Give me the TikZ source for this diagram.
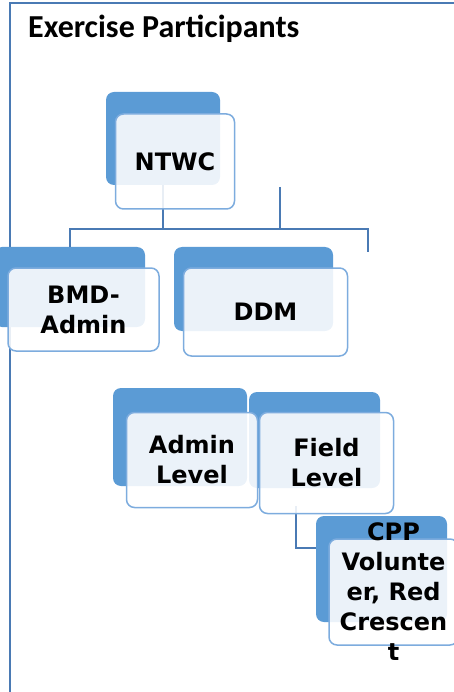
\documentclass[tikz,border=0pt]{standalone}
\usepackage{fontspec}
\setmainfont{DejaVu Sans}
\newfontfamily\titlefont{Carlito}
\usetikzlibrary{positioning}
\definecolor{frameblue}{RGB}{74,122,180}
\definecolor{backblue}{RGB}{91,155,213}
\definecolor{edgeblue}{RGB}{125,172,222}

\begin{document}
\begin{tikzpicture}
    [
        x=1pt, y=-1pt, node distance=23pt and 12pt, on grid,
        back_box/.style={rectangle, rounded corners=8pt, fill=backblue, inner sep=0pt},
        box_text/.style={align=center, inner sep=0pt, font=\fontsize{24}{30}\selectfont\bfseries},
        front_box/.style={box_text, rectangle, rounded corners=8pt, draw=edgeblue, line width=1.5pt, fill=white, fill opacity=0.88, text opacity=1},
        link/.style={line width=1.5pt, color=frameblue},
    ]
        \useasboundingbox (0,0) rectangle (454,692) ;
        \draw[line width=2pt, color=frameblue] (10,692) -- (10,3) -- (454,3) ;
        \node[anchor=base west, inner sep=0pt, font=\titlefont\fontsize{32}{36}\selectfont\bfseries] (title) at (28,38) {Exercise Participants} ;

        \node[back_box, minimum width=114pt, minimum height=93pt] (ntwc_back) at (163,138.5) {} ;
        \node[back_box, minimum width=151pt, minimum height=80pt] (bmd_back) at (69.5,287) {} ;
        \node[back_box, minimum width=159pt, minimum height=84pt] (ddm_back) at (253.5,289) {} ;
        \node[back_box, minimum width=134pt, minimum height=98pt] (admin_back) at (180,437) {} ;
        \node[back_box, minimum width=131pt, minimum height=96pt] (field_back) at (314.5,440) {} ;
        \node[back_box, minimum width=131pt, minimum height=106pt] (cpp_back) at (381.5,569) {} ;

        \coordinate (bar_left) at (70,229) ;
        \coordinate (bar_right) at (368,229) ;
        \coordinate (spare_top) at (280,187) ;
        \coordinate (field_drop) at (296,506) ;
        \draw[link] (ntwc_back.south) -- (ntwc_back.south |- bar_left) ;
        \draw[link] (bar_left |- bmd_back.north) -- (bar_left) -- (bar_right) -- ([yshift=-23pt]bar_right) ;
        \draw[link] (spare_top) -- (spare_top |- bar_left) ;
        \draw[link] (field_drop) |- (cpp_back.west |- 0,548) ;

        \node[front_box, minimum width=119pt, minimum height=95pt] (ntwc) [below right = of ntwc_back] {NTWC} ;
        \node[front_box, minimum width=151pt, minimum height=83pt] (bmd) [below right = 22.5pt and 14pt of bmd_back] {BMD-\\Admin} ;
        \node[front_box, minimum width=164pt, minimum height=88pt] (ddm) [below right = of ddm_back] {DDM} ;
        \node[front_box, minimum width=131pt, minimum height=95pt] (admin) [below right = of admin_back] {Admin\\Level} ;
        \node[front_box, minimum width=134pt, minimum height=101pt] (field) [below right = of field_back] {Field\\Level} ;
        \node[front_box, minimum width=129pt, minimum height=106pt] (cpp) [below right = of cpp_back] {} ;
        \node[box_text] (cpp_text) at (cpp) {CPP\\Volunte\\er, Red\\Crescen\\t} ;
    \end{tikzpicture}
\end{document}
